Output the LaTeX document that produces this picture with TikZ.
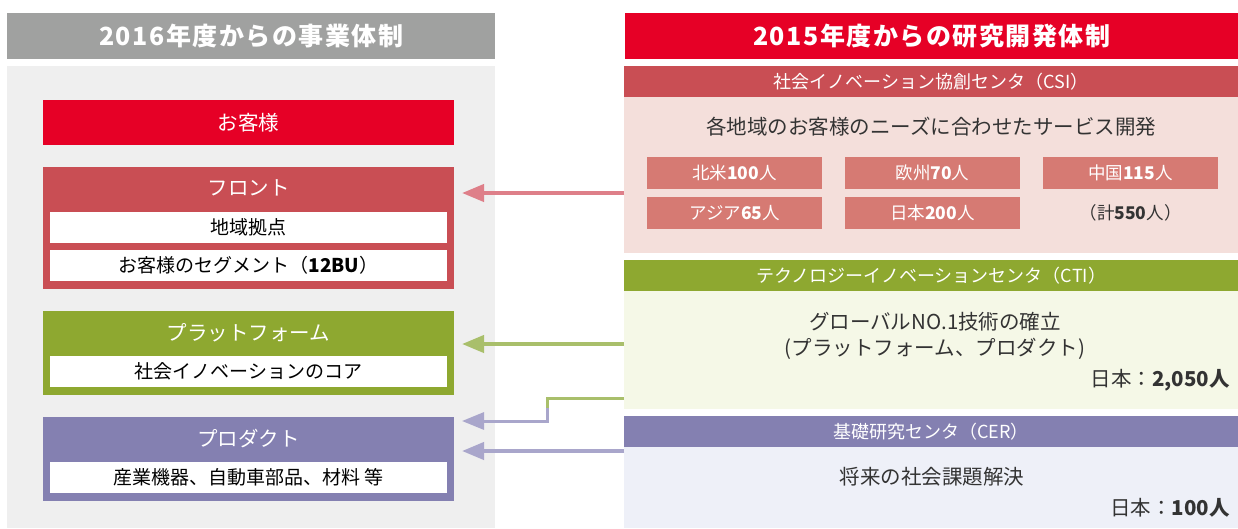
\documentclass[tikz,border=0pt]{standalone}
\usepackage{fontspec}
\setmainfont{Noto Sans CJK JP}
\usetikzlibrary{arrows.meta,positioning}

\definecolor{redc}{HTML}{E60026}
\definecolor{hgray}{HTML}{A0A1A0}
\definecolor{panelgray}{HTML}{EFEFEF}
\definecolor{frontc}{HTML}{C94E54}
\definecolor{frontarr}{HTML}{DE7F89}
\definecolor{csibg}{HTML}{F4DFDB}
\definecolor{regc}{HTML}{D67A73}
\definecolor{greenc}{HTML}{8EA830}
\definecolor{greenarr}{HTML}{A9BF6B}
\definecolor{ctibg}{HTML}{F5F8E7}
\definecolor{purc}{HTML}{8480B1}
\definecolor{purarr}{HTML}{A9A6CB}
\definecolor{cerbg}{HTML}{EEF0F8}
\definecolor{txt}{HTML}{333333}

\newcommand\fsz[1]{\fontsize{#1pt}{#1pt}\selectfont}

\tikzset{
  box/.style={draw=none, inner sep=0pt, anchor=north west},
  hdr/.style={box, minimum height=46pt, text=white, font=\fsz{25}\bfseries\addfontfeature{LetterSpace=6}},
  cat/.style={box, minimum width=411pt},
  cattitle/.style={inner sep=0pt, text=white, font=\fsz{20.5}},
  sub/.style={fill=white, inner sep=0pt, minimum width=397pt, minimum height=31pt, text=black, font=\fsz{19}},
  rhead/.style={box, minimum width=614pt, minimum height=31pt, text=white, font=\fsz{18}},
  rbody/.style={box, minimum width=614pt},
  reg/.style={fill=regc, inner sep=0pt, minimum width=175pt, minimum height=32pt, text=white, font=\fsz{17.5}},
  body/.style={inner sep=0pt, text=txt, font=\fsz{20.5}},
  arrow/.style={line width=4pt, -{Triangle[length=22pt,width=17pt]}}
}

\begin{document}
\begin{tikzpicture}[x=1pt,y=-1pt]
\useasboundingbox (0,0) rectangle (1238,528);

% left: business structure
\node[hdr, fill=hgray, minimum width=488pt] (lhead) at (7,13) {2016年度からの事業体制};
\node[box, fill=panelgray, minimum width=488pt, minimum height=462pt] (lpanel) at (7,66) {};

\node[cat, fill=redc, minimum height=45pt, text=white, font=\fsz{20.5}] (cust) at (43,100) {お客様};

\node[cat, fill=frontc, minimum height=122pt] (front) at (43,167) {};
\node[cattitle] (frontT) at (248.5,188) {フロント};
\node[sub] (frontA) at (248.5,227.5) {地域拠点};
\node[sub] (frontB) at (248.5,265.5) {お客様のセグメント（\textbf{12BU}）};

\node[cat, fill=greenc, minimum height=84pt] (plat) at (43,311) {};
\node[cattitle] (platT) at (248.5,333) {プラットフォーム};
\node[sub] (platA) at (248.5,371.5) {社会イノベーションのコア};

\node[cat, fill=purc, minimum height=84pt] (prod) at (43,417) {};
\node[cattitle] (prodT) at (248.5,439) {プロダクト};
\node[sub] (prodA) at (248.5,477.5) {産業機器、自動車部品、材料 等};

% right: R&D structure
\node[hdr, fill=redc, minimum width=613pt] (rhead) at (625,13) {2015年度からの研究開発体制};

\node[rhead, fill=frontc] (csiH) at (624,66) {社会イノベーション協創センタ（CSI）};
\node[rbody, fill=csibg, minimum height=156pt] (csiB) at (624,97) {};
\node[body] (csiT) at (931,127) {各地域のお客様のニーズに合わせたサービス開発};
\node[reg] (na) at (734.5,173) {北米\textbf{100}人};
\node[reg] (eu) at (932.5,173) {欧州\textbf{70}人};
\node[reg] (cn) at (1130.5,173) {中国\textbf{115}人};
\node[reg] (as) at (734.5,213) {アジア\textbf{65}人};
\node[reg] (jp) at (932.5,213) {日本\textbf{200}人};
\node[body, font=\fsz{17.5}] (sum) at (1130.5,213) {（計\textbf{550}人）};

\node[rhead, fill=greenc] (ctiH) at (624,260) {テクノロジーイノベーションセンタ（CTI）};
\node[rbody, fill=ctibg, minimum height=118pt] (ctiB) at (624,291) {};
\node[body] (ctiT) at (935,322) {グローバルNO.1技術の確立};
\node[body] (ctiU) at (935,349) {(プラットフォーム、プロダクト)};
\node[body, anchor=east] (ctiN) at (1230,380) {日本：\textbf{2,050人}};

\node[rhead, fill=purc] (cerH) at (624,416) {基礎研究センタ（CER）};
\node[rbody, fill=cerbg, minimum height=81pt] (cerB) at (624,447) {};
\node[body] (cerT) at (932,477) {将来の社会課題解決};
\node[body, anchor=east] (cerN) at (1230,508) {日本：\textbf{100人}};

% links
\coordinate (tipF) at (462,193);
\coordinate (tipP) at (462,344);
\coordinate (bend) at (547,398);
\coordinate (tipD) at (462,421);
\coordinate (tipE) at (462,451);

\draw[arrow, frontarr] (csiB.west |- tipF) -- (tipF);
\draw[arrow, greenarr] (ctiB.west |- tipP) -- (tipP);
\draw[greenarr, line width=3pt] (ctiB.west |- bend) -- (bend) -- ([yshift=-10pt]bend);
\draw[purarr, line width=3pt, -{Triangle[length=22pt,width=17pt]}] ([yshift=-10pt]bend) |- (tipD);
\draw[arrow, purarr] (cerB.west |- tipE) -- (tipE);
\end{tikzpicture}
\end{document}
